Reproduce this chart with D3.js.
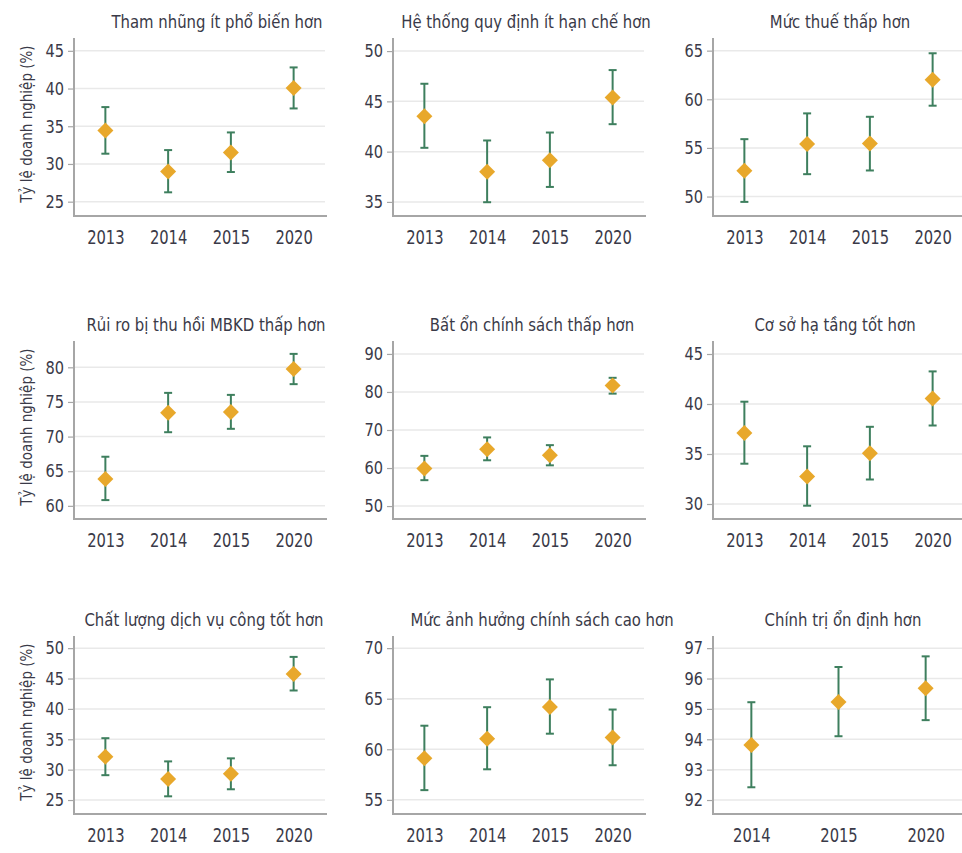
<!DOCTYPE html>
<html>
<head>
<meta charset="utf-8">
<script src="https://cdn.jsdelivr.net/npm/d3@7"></script>
<style>
  html, body { margin: 0; padding: 0; background: #ffffff; }
  svg { display: block; }
  text { font-family: "Liberation Sans Narrow", "DejaVu Sans Condensed", "Roboto", sans-serif; fill: #3a3a48; }
</style>
</head>
<body>
<svg id="chart" width="962" height="853"></svg>
<script>
// ---------------- DATA ----------------
const titles = [
  "Tham nhũng ít phổ biến hơn",
  "Hệ thống quy định ít hạn chế hơn",
  "Mức thuế thấp hơn",
  "Rủi ro bị thu hồi MBKD thấp hơn",
  "Bất ổn chính sách thấp hơn",
  "Cơ sở hạ tầng tốt hơn",
  "Chất lượng dịch vụ công tốt hơn",
  "Mức ảnh hưởng chính sách cao hơn",
  "Chính trị ổn định hơn"
];
const years4 = ["2013", "2014", "2015", "2020"];
const years3 = ["2014", "2015", "2020"];
const categories = [years4, years4, years4, years4, years4, years4, years4, years4, years3];

const means = [
  [34.45, 29.00, 31.53, 40.06],
  [43.53, 37.99, 39.15, 45.39],
  [52.64, 55.39, 55.46, 62.01],
  [63.88, 73.45, 73.54, 79.76],
  [59.91, 64.96, 63.36, 81.68],
  [37.11, 32.75, 35.07, 40.54],
  [32.14, 28.48, 29.31, 45.74],
  [59.11, 61.04, 64.19, 61.17],
  [93.81, 95.23, 95.68]
];
const lowers = [
  [31.36, 26.24, 28.93, 37.36],
  [40.38, 34.97, 36.49, 42.73],
  [49.45, 52.30, 52.68, 59.34],
  [60.83, 70.63, 71.12, 77.57],
  [56.81, 62.04, 60.71, 79.56],
  [34.03, 29.83, 32.45, 37.85],
  [29.09, 25.61, 26.77, 43.03],
  [55.96, 58.02, 61.54, 58.42],
  [92.42, 94.10, 94.63]
];
const uppers = [
  [37.54, 31.84, 34.18, 42.80],
  [46.75, 41.11, 41.90, 48.11],
  [55.90, 58.55, 58.20, 64.73],
  [67.09, 76.31, 76.02, 81.94],
  [63.20, 68.05, 66.02, 83.72],
  [40.23, 35.77, 37.72, 43.26],
  [35.18, 31.36, 31.86, 48.56],
  [62.33, 64.16, 66.91, 63.93],
  [95.22, 96.38, 96.73]
];
const yDomains = [
  [23.1, 46.7], [33.6, 51.3], [48.0, 66.3],
  [58.1, 83.8], [46.6, 93.4], [28.5, 46.3],
  [22.7, 52.0], [53.6, 71.2], [91.54, 97.4]
];
const yTicks = [
  [25, 30, 35, 40, 45], [35, 40, 45, 50], [50, 55, 60, 65],
  [60, 65, 70, 75, 80], [50, 60, 70, 80, 90], [30, 35, 40, 45],
  [25, 30, 35, 40, 45, 50], [55, 60, 65, 70], [92, 93, 94, 95, 96, 97]
];
const yAxisLabel = "Tỷ lệ doanh nghiệp (%)";

// ---------------- LAYOUT ----------------
const colX = [74, 393, 713];
const rowY = [38, 341, 636];
const plotW = 251, plotH = 178;
const titleCenters = [217, 526, 840, 206, 532, 835, 204, 542, 843];

const colors = {
  point: "#E8A82B",
  err: "#3E7F5E",
  grid: "#E9E9E9",
  axis: "#A6A6A6",
  text: "#3a3a48"
};
const FONT = '"Liberation Sans Narrow", "DejaVu Sans Condensed", sans-serif';

const svg = d3.select("#chart");

titles.forEach((title, i) => {
  const col = i % 3, row = Math.floor(i / 3);
  const x0 = colX[col], y0 = rowY[row];
  const g = svg.append("g").attr("transform", `translate(${x0},${y0})`);

  const cats = categories[i];
  const x = d3.scalePoint().domain(cats).range([0, plotW]).padding(cats.length === 4 ? 0.5 : 0.44);
  const y = d3.scaleLinear().domain(yDomains[i]).range([plotH, 0]);

  // gridlines
  g.append("g").selectAll("line").data(yTicks[i]).join("line")
    .attr("x1", 0).attr("x2", plotW)
    .attr("y1", d => y(d)).attr("y2", d => y(d))
    .attr("stroke", colors.grid).attr("stroke-width", 1.5);

  // y axis
  const yAx = g.append("g").call(d3.axisLeft(y).tickValues(yTicks[i]).tickSize(6).tickPadding(4).tickFormat(d3.format("d")));
  yAx.select(".domain").remove();
  yAx.selectAll(".tick line").attr("stroke", colors.axis).attr("stroke-width", 1.2);
  yAx.selectAll(".tick text")
    .attr("x", 0)
    .attr("transform", "translate(-10,0) scale(0.9,1)")
    .attr("font-size", 18).attr("fill", colors.text)
    .style("font-family", FONT);

  // x axis
  const xAx = g.append("g").attr("transform", `translate(0,${plotH})`)
    .call(d3.axisBottom(x).tickSize(0).tickPadding(14));
  xAx.select(".domain").remove();
  xAx.selectAll(".tick text")
    .attr("transform", "scale(0.82,1)")
    .attr("font-size", 20).attr("fill", colors.text)
    .style("font-family", FONT);

  // axis lines
  g.append("path")
    .attr("d", `M0,0V${plotH}H${plotW + 2}`)
    .attr("fill", "none").attr("stroke", colors.axis).attr("stroke-width", 2);

  const rows = cats.map((c, k) => ({ c, m: means[i][k], lo: lowers[i][k], hi: uppers[i][k] }));

  // error bars
  const eb = g.append("g").selectAll("g").data(rows).join("g")
    .attr("transform", d => `translate(${x(d.c)},0)`);
  eb.append("line").attr("x1", 0).attr("x2", 0)
    .attr("y1", d => y(d.lo)).attr("y2", d => y(d.hi))
    .attr("stroke", colors.err).attr("stroke-width", 2);
  eb.append("line").attr("x1", -4).attr("x2", 4)
    .attr("y1", d => y(d.hi)).attr("y2", d => y(d.hi))
    .attr("stroke", colors.err).attr("stroke-width", 2);
  eb.append("line").attr("x1", -4).attr("x2", 4)
    .attr("y1", d => y(d.lo)).attr("y2", d => y(d.lo))
    .attr("stroke", colors.err).attr("stroke-width", 2);

  // diamonds
  const s = 8;
  g.append("g").selectAll("path").data(rows).join("path")
    .attr("d", d => {
      const cx = x(d.c), cy = y(d.m);
      return `M${cx},${cy - s}L${cx + s},${cy}L${cx},${cy + s}L${cx - s},${cy}Z`;
    })
    .attr("fill", colors.point);

  // title
  svg.append("text")
    .attr("transform", `translate(${titleCenters[i]},${y0 - 10}) scale(0.92,1)`)
    .attr("text-anchor", "middle")
    .attr("font-size", 18)
    .text(title);

  // y axis label (first column)
  if (col === 0) {
    svg.append("text")
      .attr("transform", `translate(32,${y0 + 86}) rotate(-90)`)
      .attr("text-anchor", "middle")
      .attr("font-size", 15)
      .text(yAxisLabel);
  }
});
</script>
</body>
</html>
